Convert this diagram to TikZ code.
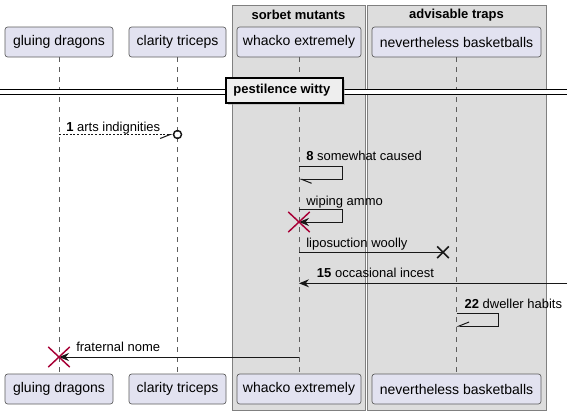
\documentclass[tikz,border=0pt]{standalone}
\usepackage{fontspec}
\setmainfont{Liberation Sans}
\usetikzlibrary{arrows.meta, shapes.misc, shadows}
\definecolor{partfill}{HTML}{E2E2F0}
\definecolor{partline}{HTML}{181818}
\definecolor{grpfill}{HTML}{DDDDDD}
\definecolor{divfill}{HTML}{EEEEEE}
\definecolor{destroyred}{HTML}{A80036}

\begin{document}
\begin{tikzpicture}[x=0.75pt, y=-0.75pt,
        part/.style={rectangle, draw=partline!70, line width=0.5pt, fill=partfill,
                     rounded corners=2pt, minimum height=22.5pt, inner sep=0pt,
                     font=\fontsize{10.5}{12}\selectfont},
        grp/.style={rectangle, draw=black!50, line width=0.75pt, fill=grpfill, inner sep=0pt},
        grptitle/.style={inner sep=0pt, font=\fontsize{9.75}{11}\selectfont\bfseries},
        lifeline/.style={draw=partline!70, line width=0.5pt, dash pattern=on 3.75pt off 3.75pt},
        msg/.style={draw=partline, line width=0.75pt},
        lbl/.style={anchor=base west, inner sep=0pt, font=\fontsize{9.75}{11}\selectfont},
        head/.style={-{Stealth[length=7.5pt, width=6pt, inset=2.5pt]}},
        destroy/.style={cross out, draw=destroyred, line width=1.1pt,
                        minimum width=15pt, minimum height=14pt, inner sep=0pt},
        lost/.style={cross out, draw=partline, line width=1.2pt, minimum size=7.5pt, inner sep=0pt}
    ]
        \path[fill=white, use as bounding box] (0,0) rectangle (573,415);

        % Boxes round the grouped participants
        \node[grp, minimum width=99.75pt, minimum height=303.75pt] (sorbet) at (298.5,207.5) {};
        \node[grp, minimum width=134.25pt, minimum height=303.75pt] (advisable) at (456.5,207.5) {};
        \node[grptitle] (sorbetTitle) at (298.5,15) {sorbet mutants};
        \node[grptitle] (advisableTitle) at (456.5,15) {advisable traps};

        % Participants (top)
        \node[part, minimum width=81pt] (gluingTop) at (59,42) {gluing dragons};
        \node[part, minimum width=72.75pt] (clarityTop) at (177.5,42) {clarity triceps};
        \node[part, minimum width=93pt] (whackoTop) at (299,42) {whacko extremely};
        \node[part, minimum width=126.75pt] (basketTop) at (456.5,42) {nevertheless basketballs};

        % Participants (bottom)
        \node[part, minimum width=81pt] (gluingBot) at (59,389) {gluing dragons};
        \node[part, minimum width=72.75pt] (clarityBot) at (177.5,389) {clarity triceps};
        \node[part, minimum width=93pt] (whackoBot) at (299,389) {whacko extremely};
        \node[part, minimum width=126.75pt] (basketBot) at (456.5,389) {nevertheless basketballs};

        % Lifelines
        \draw[lifeline] (gluingTop.south) -- (gluingBot.north);
        \draw[lifeline] ([xshift=-0.375pt]clarityTop.south) -- ([xshift=-0.375pt]clarityBot.north);
        \draw[lifeline] (whackoTop.south) -- (whackoBot.north);
        \draw[lifeline] (basketTop.south) -- (basketBot.north);

        % Divider
        \coordinate (divL) at (0,92);
        \coordinate (divR) at (567,92);
        \draw[line width=0.75pt, double, double distance=3.3pt] (divL) -- (divR);
        \node[rectangle, draw, line width=1.5pt, fill=divfill, minimum width=87.75pt,
              minimum height=18.75pt, inner sep=0pt, font=\fontsize{9.75}{11}\selectfont\bfseries,
              drop shadow={shadow xshift=1.5pt, shadow yshift=-1.5pt, fill=black!35}]
              (divBox) at (284.5,90.5) {\hspace*{-4pt}pestilence witty};

        % Message rows
        \coordinate (rowArts) at (0,134.5);
        \coordinate (rowCaused) at (0,166.7);
        \coordinate (rowCausedB) at (0,179.3);
        \coordinate (rowAmmo) at (0,209.3);
        \coordinate (rowAmmoB) at (0,222);
        \coordinate (rowWoolly) at (0,252.3);
        \coordinate (rowIncest) at (567,283.3);
        \coordinate (rowHabits) at (0,313);
        \coordinate (rowHabitsB) at (0,326);
        \coordinate (rowNome) at (0,357);

        % 1 arts indignities
        \node[circle, draw=partline, line width=1.1pt, minimum size=6pt, inner sep=0pt]
              (artsEnd) at (clarityTop |- rowArts) {};
        \draw[msg, dash pattern=on 1.5pt off 1.2pt,
              -{Straight Barb[harpoon, swap, length=7.5pt, width=6pt]}]
              (gluingTop |- rowArts) -- (artsEnd.west);
        \node[lbl] (artsLbl) at (66,131) {\textbf{1} arts indignities};

        % 8 somewhat caused
        \draw[msg, -{Straight Barb[harpoon, length=7.5pt, width=6pt]}]
              (whackoTop |- rowCaused) -- ++(43,0) |- (whackoTop |- rowCausedB);
        \node[lbl] (causedLbl) at (306,160.7) {\textbf{8} somewhat caused};

        % wiping ammo
        \draw[msg, head] (whackoTop |- rowAmmo) -- ++(43,0) |- (whackoTop |- rowAmmoB);
        \node[destroy] (ammoX) at (whackoTop |- rowAmmoB) {};
        \node[lbl] (ammoLbl) at (306,205) {wiping ammo};

        % liposuction woolly
        \node[lost] (woollyX) at (443,252.3) {};
        \draw[msg] (whackoTop |- rowWoolly) -- (woollyX.center);
        \node[lbl] (woollyLbl) at (306,247.7) {liposuction woolly};

        % 15 occasional incest
        \draw[msg, head] (rowIncest) -- (whackoTop |- rowIncest);
        \node[lbl] (incestLbl) at (316.7,277.3) {\textbf{15} occasional incest};

        % 22 dweller habits
        \draw[msg, -{Straight Barb[harpoon, swap, length=7.5pt, width=6pt]}]
              (basketTop |- rowHabits) -- ++(42,0) |- (basketTop |- rowHabitsB);
        \node[lbl] (habitsLbl) at (464.3,308.3) {\textbf{22} dweller habits};

        % fraternal nome
        \draw[msg, head] (whackoTop |- rowNome) -- (gluingTop |- rowNome);
        \node[destroy] (nomeX) at (gluingTop |- rowNome) {};
        \node[lbl] (nomeLbl) at (76,351.7) {fraternal nome};
    \end{tikzpicture}
\end{document}
